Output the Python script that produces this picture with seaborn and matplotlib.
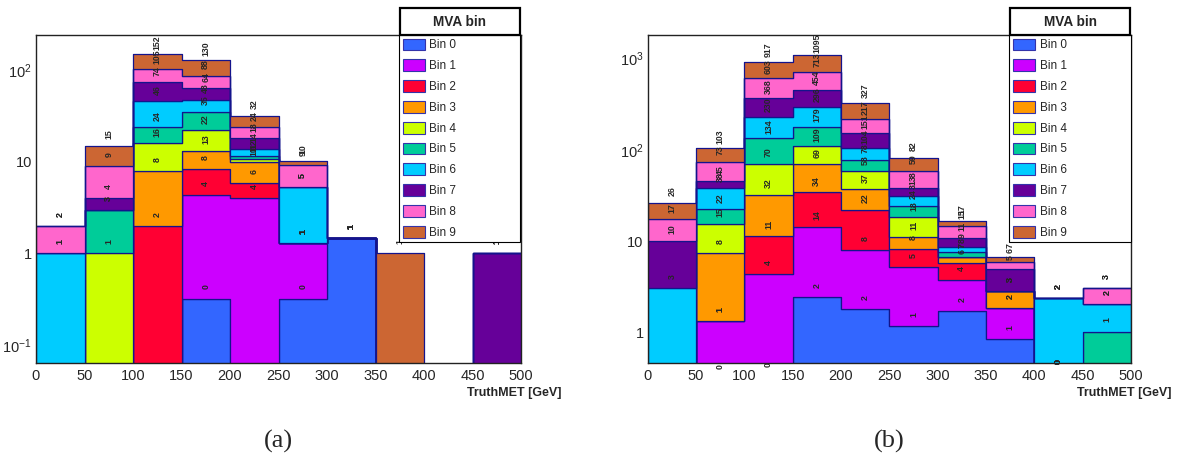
import numpy as np
import pandas as pd
import matplotlib
matplotlib.use("Agg")
import matplotlib.pyplot as plt
from matplotlib.patches import Patch, Rectangle
from matplotlib.ticker import (FixedLocator, FuncFormatter, LogLocator,
                               NullFormatter, MultipleLocator)
import seaborn as sns

# ---------------- data ----------------
met_edges = [0, 50, 100, 150, 200, 250, 300, 350, 400, 450, 500]
met_centers = [25, 75, 125, 175, 225, 275, 325, 375, 425, 475]
mva_bins = ["Bin 0", "Bin 1", "Bin 2", "Bin 3", "Bin 4",
            "Bin 5", "Bin 6", "Bin 7", "Bin 8", "Bin 9"]
mva_colors = ["#3366FF", "#CC00FF", "#FF0033", "#FF9900", "#CCFF00",
              "#00CC99", "#00CCFF", "#660099", "#FF66CC", "#CC6633"]

# panel (a): weighted events per TruthMET bin, one list per MVA bin
a_bin0 = [0, 0, 0, 0.32, 0, 0.32, 1.46, 0, 0, 0]
a_bin1 = [0, 0, 0, 4.03, 4.03, 0.99, 0, 0, 0, 0]
a_bin2 = [0, 0, 2.0, 4.05, 1.9, 0, 0, 0, 0, 0]
a_bin3 = [0, 0, 6.0, 4.9, 3.97, 0, 0, 0, 0, 0]
a_bin4 = [0, 1.0, 8.0, 8.8, 0.8, 0, 0, 0, 0, 0]
a_bin5 = [0, 2.0, 8.0, 13.0, 0.9, 0, 0, 0, 0, 0]
a_bin6 = [1.0, 0, 22.0, 13.0, 2.2, 3.96, 0, 0, 0, 0]
a_bin7 = [0, 1.0, 28.0, 16.0, 4.3, 0, 0, 0, 0, 1.0]
a_bin8 = [1.0, 5.0, 31.0, 24.0, 5.8, 3.98, 0, 0, 0, 0]
a_bin9 = [0, 6.0, 47.0, 42.0, 8.0, 0.95, 0, 1.0, 0, 0]

# panel (b)
b_bin0 = [0, 0.32, 0.34, 2.45, 1.8, 1.18, 1.74, 0.85, 0.36, 0]
b_bin1 = [0, 1.02, 4.06, 11.95, 6.2, 4.1, 2.02, 1.0, 0, 0]
b_bin2 = [0, 0, 7.0, 19.8, 14.0, 2.95, 2.06, 0, 0, 0]
b_bin3 = [0, 6.16, 20.7, 35.0, 15.0, 3.0, 0.85, 1.01, 0, 0]
b_bin4 = [0, 7.9, 38.3, 39.8, 21.0, 7.0, 0, 0, 0, 0]
b_bin5 = [0, 6.9, 64.0, 70.0, 20.0, 6.1, 1.01, 0, 0, 1.03]
b_bin6 = [3.05, 15.7, 95.6, 117.0, 26.0, 6.9, 1.02, 0, 2.05, 1.01]
b_bin7 = [7.05, 7.3, 138.0, 158.0, 47.0, 7.0, 2.2, 2.07, 0, 0]
b_bin8 = [7.2, 28.1, 235.0, 259.0, 66.0, 20.5, 3.9, 0.95, 0, 1.01]
b_bin9 = [9.0, 29.9, 314.0, 382.0, 110.0, 23.4, 1.9, 0.89, 0, 0]

panel_a = [a_bin0, a_bin1, a_bin2, a_bin3, a_bin4,
           a_bin5, a_bin6, a_bin7, a_bin8, a_bin9]
panel_b = [b_bin0, b_bin1, b_bin2, b_bin3, b_bin4,
           b_bin5, b_bin6, b_bin7, b_bin8, b_bin9]

# ---------------- style ----------------
sns.set_style("white")
plt.rcParams["font.family"] = ["Liberation Sans", "DejaVu Sans"]
plt.rcParams["mathtext.default"] = "regular"

EDGE = "#14148c"
W, H = 1189, 457
fig = plt.figure(figsize=(W / 100, H / 100), dpi=100)
palette = dict(zip(mva_bins, mva_colors))


def make_frame(series):
    rows = []
    for name, vals in zip(mva_bins, series):
        for c, v in zip(met_centers, vals):
            rows.append({"TruthMET": c, "weight": v, "MVA bin": name})
    return pd.DataFrame(rows)


def ylabel_fmt(v, pos):
    if abs(v - 1) < 1e-9:
        return "1"
    if abs(v - 10) < 1e-9:
        return "10"
    e = int(round(np.log10(v)))
    return r"$\mathdefault{10^{%d}}$" % e


def draw_panel(rect, series, ylim, yticks, legend_x, title_x, xlabel_x, caption, caption_x):
    ax = fig.add_axes(rect)
    df = make_frame(series)
    sns.histplot(data=df, x="TruthMET", weights="weight", hue="MVA bin",
                 hue_order=mva_bins[::-1], palette=palette,
                 multiple="stack", bins=met_edges, element="step",
                 fill=True, alpha=1, edgecolor=EDGE, linewidth=0.9,
                 legend=False, ax=ax)
    ax.set_yscale("log")
    ax.set_xlim(0, 500)
    ax.set_ylim(*ylim)
    ax.set_xlabel("")
    ax.set_ylabel("")
    ax.set_axisbelow(False)

    # stacked value labels
    cum = np.cumsum(np.array(series, dtype=float), axis=0)
    for k in range(cum.shape[0]):
        for j, c in enumerate(met_centers):
            v = cum[k, j]
            if v > 0:
                ax.annotate(f"{v:.0f}", (c, v), xytext=(0, 11.5),
                            textcoords="offset pixels", rotation=90,
                            ha="center", va="center", fontsize=6.3,
                            fontweight="bold", annotation_clip=False,
                            zorder=4)

    ax.yaxis.set_major_locator(FixedLocator(yticks))
    ax.yaxis.set_major_formatter(FuncFormatter(ylabel_fmt))
    ax.yaxis.set_minor_locator(LogLocator(base=10, subs=np.arange(2, 10)))
    ax.yaxis.set_minor_formatter(NullFormatter())
    ax.xaxis.set_major_locator(MultipleLocator(50))
    ax.xaxis.set_minor_locator(MultipleLocator(10))
    ax.tick_params(axis="both", which="both", direction="in", top=False,
                   right=False, labelsize=10.5, color="black")
    ax.tick_params(axis="y", which="major", length=10.5, width=1.0, pad=3)
    ax.tick_params(axis="y", which="minor", length=5.3, width=0.9)
    ax.tick_params(axis="x", which="major", length=7, width=1.0, pad=4)
    ax.tick_params(axis="x", which="minor", length=3.6, width=0.9)
    for s in ax.spines.values():
        s.set_linewidth(1.0)
        s.set_color("#222222")

    handles = [Patch(facecolor=c, edgecolor="#3333aa", linewidth=0.8, label=n)
               for n, c in zip(mva_bins, mva_colors)]
    top = 1 - 35 / H
    leg = ax.legend(handles=handles, loc="upper left",
                    bbox_to_anchor=(legend_x / W, top - 0.6, 121 / W, 0.6),
                    bbox_transform=fig.transFigure, mode="expand",
                    borderaxespad=0, fontsize=8.5, handlelength=1.9,
                    handleheight=1.16, handletextpad=0.35, labelspacing=0.67,
                    borderpad=0.3, fancybox=False, framealpha=1,
                    edgecolor="black")
    leg.get_frame().set_linewidth(0.8)
    leg.set_zorder(6)

    fig.add_artist(Rectangle((title_x / W, 1 - 35 / H), 120 / W, 26.7 / H,
                             transform=fig.transFigure, facecolor="white",
                             edgecolor="black", linewidth=1.6, zorder=10))
    fig.text((title_x + 60) / W, 1 - 21.7 / H, "MVA bin", ha="center",
             va="center", fontsize=9.8, fontweight="bold", zorder=11)
    fig.text(xlabel_x / W, 1 - 393.3 / H, "TruthMET [GeV]", ha="left",
             va="center", fontsize=9, fontweight="bold")
    fig.text(caption_x / W, 1 - 441.7 / H, caption, ha="center", va="center",
             fontsize=19, family=["Liberation Serif", "DejaVu Serif"])
    return ax


bottom = 1 - 363.3 / H
height = (363.3 - 35) / H
draw_panel([36 / W, bottom, 485 / W, height], panel_a, (0.0626, 244.5),
           [0.1, 1, 10, 100], 399, 399.5, 467, "(a)", 278)
draw_panel([647.7 / W, bottom, 483.3 / W, height], panel_b, (0.463, 1793),
           [1, 10, 100, 1000], 1009.5, 1010, 1077, "(b)", 889)

fig.savefig("out.png", dpi=100)
